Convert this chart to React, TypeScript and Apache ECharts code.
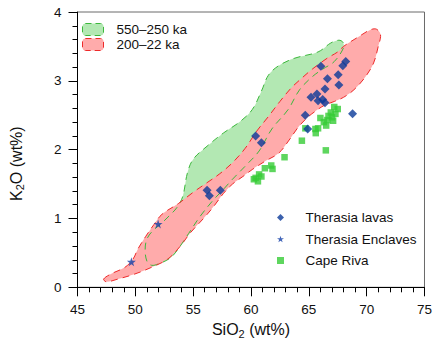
import React, { useEffect, useRef } from "react";
import * as echarts from "echarts";

// ---- data ----
const xMin = 45;
const xMax = 75;
const xStep = 5;
const yMin = 0;
const yMax = 4;
const yStep = 1;

const fieldOldName = "550–250 ka";
const fieldYoungName = "200–22 ka";

// 550–250 ka field outline [SiO2, K2O]
const fieldOld: [number, number][] = [
  [51.4, 0.32], [52.0, 0.34], [53.05, 0.43], [53.8, 0.58], [54.6, 0.78], [55.6, 1.03],
  [56.7, 1.26], [57.6, 1.42], [58.4, 1.57], [59.5, 1.76], [60.7, 1.98], [61.8, 2.3],
  [63.2, 2.58], [64.2, 2.87], [65.3, 3.06], [66.2, 3.17], [67.2, 3.28], [68.0, 3.48],
  [67.95, 3.56], [67.6, 3.59], [66.9, 3.55], [65.8, 3.42], [63.8, 3.33], [62.4, 3.22],
  [61.5, 3.08], [60.9, 2.85], [60.1, 2.58], [59.0, 2.4], [57.6, 2.24], [56.2, 2.05],
  [55.0, 1.86], [54.5, 1.66], [54.1, 1.32], [53.6, 1.16], [53.0, 1.05], [52.2, 0.92],
  [51.5, 0.82], [51.0, 0.7], [50.85, 0.55], [51.0, 0.38],
];

// 200–22 ka field outline [SiO2, K2O]
const fieldYoung: [number, number][] = [
  [47.26, 0.12], [47.97, 0.2], [49.1, 0.29], [49.8, 0.41], [50.2, 0.55], [50.9, 0.74],
  [51.6, 0.91], [52.3, 1.06], [53.75, 1.22], [55.0, 1.38], [56.2, 1.52], [57.3, 1.65],
  [58.4, 1.81], [59.5, 2.02], [60.5, 2.27], [61.5, 2.48], [62.5, 2.7], [63.5, 2.9],
  [64.4, 3.04], [65.3, 3.17], [66.6, 3.33], [67.5, 3.42], [68.0, 3.5], [69.3, 3.64],
  [70.3, 3.74], [70.85, 3.75], [71.2, 3.67], [71.0, 3.5], [70.6, 3.26], [69.9, 3.06],
  [68.9, 2.87], [68.0, 2.76], [67.2, 2.7], [66.3, 2.64], [65.5, 2.55], [64.9, 2.47],
  [64.1, 2.33], [63.3, 2.14], [62.4, 1.95], [61.2, 1.83], [60.1, 1.71], [59.3, 1.61],
  [58.4, 1.5], [57.6, 1.36], [56.8, 1.18], [56.0, 1.02], [54.75, 0.79], [53.9, 0.6],
  [52.8, 0.41], [51.4, 0.29], [49.9, 0.19], [48.5, 0.12], [47.5, 0.08],
];

const lavasName = "Therasia lavas";
const lavas: [number, number][] = [
  [66.04, 3.21], [68.19, 3.28], [67.94, 3.22], [67.54, 3.09], [66.61, 3.03], [67.6, 2.94],
  [66.4, 2.88], [65.19, 2.76], [65.7, 2.81], [65.8, 2.71], [66.2, 2.73], [66.4, 2.68],
  [64.69, 2.5], [68.78, 2.52], [64.9, 2.3], [60.4, 2.2], [60.9, 2.1], [56.2, 1.41],
  [56.4, 1.33], [57.35, 1.41],
];

const enclavesName = "Therasia Enclaves";
const enclaves: [number, number][] = [
  [49.66, 0.37], [51.97, 0.92],
];

const capeRivaName = "Cape Riva";
const capeRiva: [number, number][] = [
  [67.2, 2.62], [67.5, 2.59], [66.9, 2.54], [67.3, 2.52], [67.0, 2.47], [66.7, 2.49],
  [66.6, 2.43], [67.1, 2.42], [66.0, 2.46], [66.3, 2.4], [66.5, 2.35], [65.57, 2.3],
  [65.8, 2.31], [65.6, 2.24], [64.7, 2.31], [64.4, 2.13], [66.47, 1.99], [62.9, 1.89],
  [61.2, 1.73], [61.75, 1.77], [61.86, 1.72], [60.7, 1.64], [60.9, 1.61], [60.4, 1.59],
  [60.6, 1.54], [60.25, 1.57],
];

// ---- styles ----
const FONT = "'Liberation Sans', Arial, Helvetica, sans-serif";
const greenFill = "#b3e8b3";
const greenLine = "#3cb83c";
const pinkFill = "#ffabab";
const redLine = "#ee2a2a";
const blue = "#0a3a99";
const starBlue = "#1440a8";
const squareGreen = "#36cc36";
const STAR =
  "path://M50,0 L61.2,34.5 L97.6,34.5 L68.2,55.9 L79.4,90.5 L50,69.1 L20.6,90.5 L31.8,55.9 L2.4,34.5 L38.8,34.5 Z";

function fieldSeries(
  name: string,
  pts: [number, number][],
  fill: string,
  stroke: string,
  outline: boolean
) {
  return {
    type: "custom",
    name,
    coordinateSystem: "cartesian2d",
    silent: true,
    clip: true,
    data: pts,
    renderItem: (params: any, api: any) => {
      if (params.dataIndex !== 0) return null;
      return {
        type: "polygon",
        shape: { points: pts.map((p) => api.coord(p)), smooth: 0.35 },
        style: outline
          ? { fill: "none", stroke, lineWidth: 1, lineDash: [7, 5] }
          : { fill, stroke: "none" },
      };
    },
  };
}

export default function App() {
  const ref = useRef<HTMLDivElement>(null);
  useEffect(() => {
    if (!ref.current) return;
    const chart = echarts.init(ref.current, null, { renderer: "svg" });
    const axisLineStyle = { color: "#000", width: 1 };
    chart.setOption({
      animation: false,
      backgroundColor: "#fff",
      textStyle: { fontFamily: FONT },
      grid: {
        left: 76,
        right: 5.7,
        top: 12,
        bottom: 57.7,
        show: true,
        borderColor: "#6a6a6a",
        borderWidth: 1,
        backgroundColor: "transparent",
      },
      legend: [
        {
          orient: "vertical",
          left: 82,
          top: 22.5,
          padding: 0,
          itemWidth: 21,
          itemHeight: 12,
          itemGap: 1,
          selectedMode: false,
          textStyle: { fontSize: 13.5, color: "#111", fontFamily: FONT, padding: [0, 0, 0, 8] },
          data: [
            {
              name: fieldOldName,
              icon: "roundRect",
              itemStyle: { color: greenFill, borderColor: greenLine, borderWidth: 1, borderType: [6, 4] },
            },
            {
              name: fieldYoungName,
              icon: "roundRect",
              itemStyle: { color: pinkFill, borderColor: redLine, borderWidth: 1, borderType: [6, 4] },
            },
          ],
        },
        {
          orient: "vertical",
          left: 277,
          top: 210.5,
          padding: 0,
          itemWidth: 7,
          itemHeight: 7,
          itemGap: 7.5,
          selectedMode: false,
          textStyle: { fontSize: 13.5, color: "#111", fontFamily: FONT, padding: [0, 0, 0, 16.5] },
          data: [lavasName, enclavesName, capeRivaName],
        },
      ],
      xAxis: {
        type: "value",
        min: xMin,
        max: xMax,
        interval: xStep,
        name: "SiO{sub|2} (wt%)",
        nameLocation: "middle",
        nameGap: 33,
        nameTextStyle: {
          fontSize: 16,
          color: "#111",
          fontFamily: FONT,
          rich: { sub: { fontSize: 11, verticalAlign: "bottom", padding: [8, 0, 0, 0], fontFamily: FONT, color: "#111" } },
        },
        axisLine: { show: true, lineStyle: axisLineStyle },
        axisTick: { show: true, inside: false, length: 9, lineStyle: axisLineStyle },
        minorTick: { show: true, splitNumber: 5, length: 5, lineStyle: axisLineStyle },
        axisLabel: { fontSize: 13.5, color: "#111", margin: 15, fontFamily: FONT },
        splitLine: { show: false },
      },
      yAxis: {
        type: "value",
        min: yMin,
        max: yMax,
        interval: yStep,
        name: "K{sub|2}O (wt%)",
        nameLocation: "middle",
        nameGap: 52,
        nameTextStyle: {
          fontSize: 16,
          color: "#111",
          fontFamily: FONT,
          padding: [0, 28, 0, 0],
          rich: { sub: { fontSize: 11, verticalAlign: "bottom", padding: [8, 0, 0, 0], fontFamily: FONT, color: "#111" } },
        },
        axisLine: { show: true, lineStyle: axisLineStyle },
        axisTick: { show: true, inside: false, length: 9, lineStyle: axisLineStyle },
        minorTick: { show: true, splitNumber: 5, length: 5, lineStyle: axisLineStyle },
        axisLabel: { fontSize: 13.5, color: "#111", margin: 16, fontFamily: FONT },
        splitLine: { show: false },
      },
      series: [
        fieldSeries(fieldOldName, fieldOld, greenFill, greenLine, false),
        fieldSeries(fieldYoungName, fieldYoung, pinkFill, redLine, false),
        fieldSeries(fieldOldName + " outline", fieldOld, greenFill, greenLine, true),
        fieldSeries(fieldYoungName + " outline", fieldYoung, pinkFill, redLine, true),
        {
          type: "scatter",
          name: capeRivaName,
          symbol: "rect",
          symbolSize: 6.5,
          itemStyle: { color: squareGreen },
          data: capeRiva,
          silent: true,
        },
        {
          type: "scatter",
          name: lavasName,
          symbol: "diamond",
          symbolSize: 9,
          itemStyle: { color: blue },
          data: lavas,
          silent: true,
        },
        {
          type: "scatter",
          name: enclavesName,
          symbol: STAR,
          symbolSize: 9,
          itemStyle: { color: starBlue },
          data: enclaves,
          silent: true,
        },
      ],
    });
    return () => chart.dispose();
  }, []);
  return <div ref={ref} style={{ width: 435, height: 345, position: "absolute", left: 0, top: 0 }} />;
}
